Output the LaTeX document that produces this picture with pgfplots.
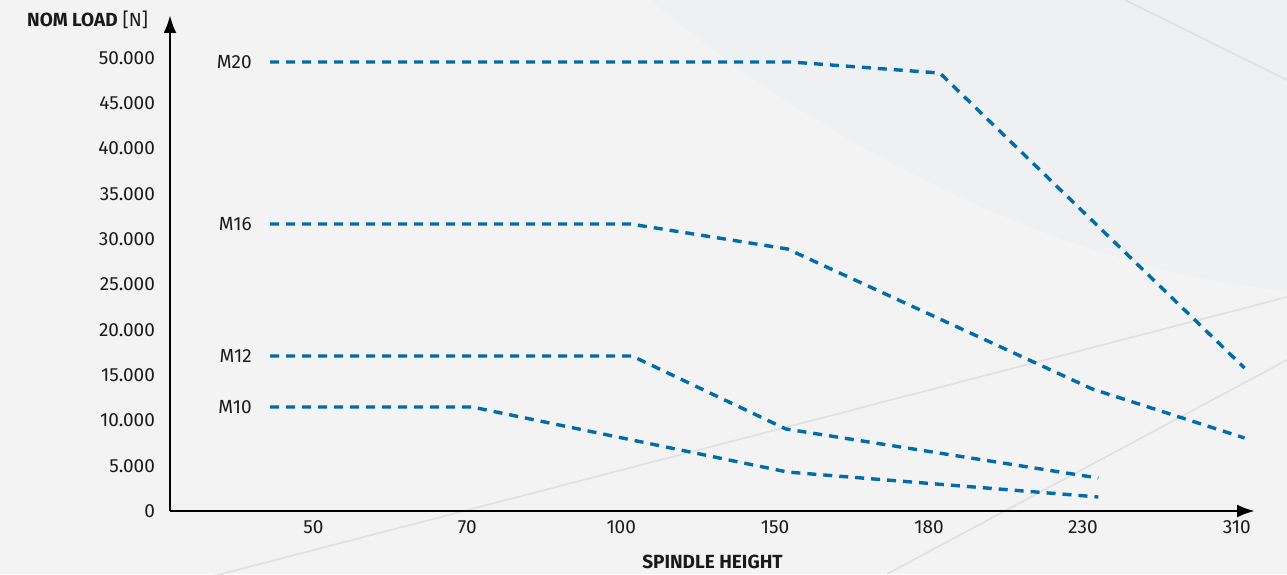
\documentclass[border=0pt]{standalone}
\usepackage{fontspec}
\setmainfont{Fira Sans}
\usepackage{pgfplots}
\pgfplotsset{compat=1.18}
\usetikzlibrary{arrows.meta}

\definecolor{bg}{HTML}{EFF0F1}
\definecolor{bglight}{HTML}{F3F3F3}
\definecolor{deco}{HTML}{E0E0E1}
\definecolor{load}{HTML}{006CAC}
\definecolor{ink}{HTML}{1A1A1A}

\tikzset{
  series/.style={font=\fontsize{9.5}{11}\selectfont, text=ink, solid,
    anchor=east, xshift=-5pt},
  loadline/.style={color=load, line width=1.7pt,
    dash pattern=on 4.5pt off 3.5pt},
}

\begin{document}
\begin{tikzpicture}[font=\fontsize{9.5}{11}\selectfont]
% background (1px = 0.5pt, origin at the axis corner)
\path[use as bounding box, fill=bg] (-85pt,-31.5pt) rectangle (558.5pt,255.5pt);
\begin{scope}
  \clip (-85pt,-31.5pt) rectangle (558.5pt,255.5pt);
  \fill[bglight] (-85pt,-31.5pt) -- (-85pt,255.5pt) -- (240pt,255.5pt)
     .. controls (330pt,180pt) and (450pt,120pt) .. (558.5pt,110pt) -- (558.5pt,-31.5pt) -- cycle;
  \draw[deco, line width=0.8pt] (20pt,-33pt) -- (558.5pt,107pt);
  \draw[deco, line width=0.8pt] (358.5pt,-31.5pt) -- (558.5pt,75.5pt);
  \draw[deco, line width=0.8pt] (477.5pt,255.5pt) -- (558.5pt,215.5pt);
\end{scope}

\begin{axis}[
    at={(0,0)}, anchor=south west,
    scale only axis,
    width=542.5pt, height=248pt,
    clip=false,
    axis lines=left,
    axis line style={line width=1.35pt, -{Latex[length=9pt,width=6.5pt]}},
    xmin=-0.932, xmax=6.118,
    ymin=0, ymax=54746,
    xtick={0,...,6},
    xticklabels={50,70,100,150,180,230,310},
    ytick={0,5000,...,50000},
    scaled y ticks=false,
    major tick length=0,
    /pgf/number format/assume math mode=true,
    /pgf/number format/fixed,
    /pgf/number format/1000 sep={.},
    tick label style={font=\fontsize{9.5}{11}\selectfont, text=ink},
    xticklabel style={yshift=-1.5pt},
    yticklabel style={xshift=-4pt},
]
\addplot[loadline] coordinates {(-0.282,49560) (3.10,49560) (4.07,48340) (6.05,15780)}
    node[series, pos=0] {M20};
\addplot[loadline] coordinates {(-0.282,31680) (2.06,31680) (3.08,28920) (5.06,13470) (6.05,8060)}
    node[series, pos=0] {M16};
\addplot[loadline] coordinates {(-0.282,17110) (2.07,17110) (3.07,9050) (5.10,3640)}
    node[series, pos=0] {M12};
\addplot[loadline] coordinates {(-0.282,11480) (1.03,11480) (3.08,4300) (5.10,1545)}
    node[series, pos=0] {M10};

\node[anchor=east, text=ink] at ([xshift=-7.5pt]rel axis cs:0,0.99)
    {\textbf{NOM LOAD} [N]};
\node[text=ink] at ([yshift=-25.5pt]rel axis cs:0.5,0) {\textbf{SPINDLE HEIGHT}};
\end{axis}
\end{tikzpicture}
\end{document}
